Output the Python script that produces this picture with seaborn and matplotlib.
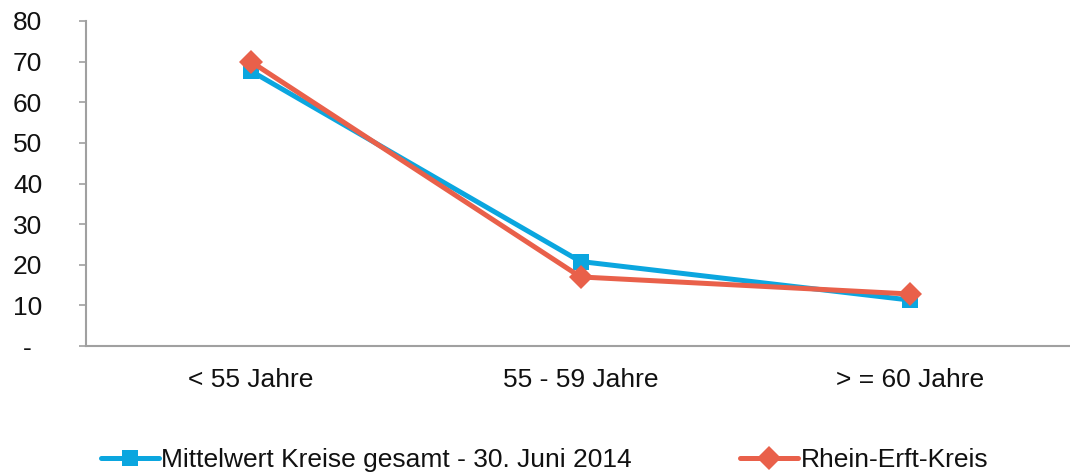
import matplotlib
matplotlib.use("Agg")
import matplotlib.pyplot as plt
import pandas as pd
import seaborn as sns
from matplotlib.ticker import FixedLocator, FixedFormatter

# Data
categories = ['< 55 Jahre', '55 - 59 Jahre', '> = 60 Jahre']
mittelwert = [67.7, 20.8, 11.3]
rhein_erft = [70.0, 17.0, 12.8]
series_names = ['Mittelwert Kreise gesamt - 30. Juni 2014', 'Rhein-Erft-Kreis']
y_ticks = [0, 10, 20, 30, 40, 50, 60, 70, 80]
y_tick_labels = ['-', '10', '20', '30', '40', '50', '60', '70', '80']

palette = {series_names[0]: '#0BA6DF', series_names[1]: '#E9604A'}
markers = {series_names[0]: 's', series_names[1]: 'D'}

rows = []
for i, cat in enumerate(categories):
    rows.append({'pos': i, 'wert': mittelwert[i], 'serie': series_names[0]})
    rows.append({'pos': i, 'wert': rhein_erft[i], 'serie': series_names[1]})
df = pd.DataFrame(rows)

sns.set_style('white')
plt.rcParams['font.family'] = ['Liberation Sans', 'DejaVu Sans']
plt.rcParams['text.color'] = '#111111'
plt.rcParams['xtick.labelcolor'] = '#111111'
plt.rcParams['ytick.labelcolor'] = '#111111'
fs = 19

fig = plt.figure(figsize=(10.7, 4.76), dpi=100)
ax = fig.add_axes([86 / 1070, 1 - 346 / 476, 989 / 1070, 325 / 476])

sns.lineplot(data=df, x='pos', y='wert', hue='serie', style='serie',
             markers=markers, dashes=False, palette=palette, linewidth=3.6,
             markersize=12, markeredgewidth=0, ax=ax, legend=False)

ax.set_xlim(-0.5, 2.5)
ax.set_ylim(0, 80)
ax.set_xlabel('')
ax.set_ylabel('')

ax.xaxis.set_major_locator(FixedLocator([0, 1, 2]))
ax.xaxis.set_major_formatter(FixedFormatter(categories))
ax.xaxis.set_minor_locator(FixedLocator([0.5, 1.5]))
ax.tick_params(axis='x', which='major', length=0, pad=16, labelsize=fs)
ax.tick_params(axis='x', which='minor', length=8, width=1.2, color='#A0A0A0', direction='out')
ax.yaxis.set_major_locator(FixedLocator(y_ticks))
ax.yaxis.set_major_formatter(FixedFormatter(y_tick_labels))
ax.tick_params(axis='y', length=5, width=1.2, color='#A0A0A0', direction='out',
               pad=37, labelsize=fs, left=True)
for lab in ax.get_yticklabels():
    lab.set_horizontalalignment('center')

for side in ['top', 'right']:
    ax.spines[side].set_visible(False)
for side in ['left', 'bottom']:
    ax.spines[side].set_color('#A0A0A0')
    ax.spines[side].set_linewidth(1.5)

handles = [plt.Line2D([], [], color=palette[n], marker=markers[n], linewidth=3.6,
                      markersize=12, markeredgewidth=0) for n in series_names]
fig.legend(handles, series_names, loc='lower left', bbox_to_anchor=(0.072, -0.042),
           ncol=2, frameon=False, fontsize=fs, handlelength=2.2,
           handletextpad=0.1, columnspacing=4.1)

fig.savefig('out.png', dpi=100)
